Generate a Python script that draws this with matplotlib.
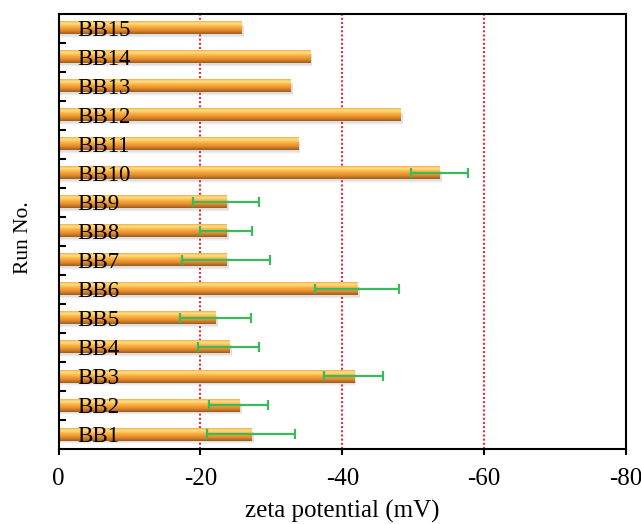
import numpy as np
import matplotlib
matplotlib.use("Agg")
import matplotlib.pyplot as plt
from matplotlib.colors import LinearSegmentedColormap

runs = ["BB1", "BB2", "BB3", "BB4", "BB5", "BB6", "BB7", "BB8",
        "BB9", "BB10", "BB11", "BB12", "BB13", "BB14", "BB15"]
zeta = [-27.2, -25.4, -41.6, -24.0, -22.1, -42.1, -23.6, -23.6,
        -23.6, -53.7, -33.7, -48.2, -32.6, -35.4, -25.7]
zeta_err = [6.2, 4.2, 4.2, 4.3, 5.0, 5.9, 6.2, 3.7,
            4.7, 4.0, 0, 0, 0, 0, 0]
x_ticks = [0, -20, -40, -60, -80]
ref_lines = [-20, -40, -60]

plt.rcParams['font.family'] = ['Liberation Serif', 'DejaVu Serif']

fig = plt.figure(figsize=(6.41, 5.24), dpi=100)
ax = fig.add_axes([0.0913, 0.1431, 0.8853, 0.8311])

# cylinder-like shading, top row of the array is the top of the bar
bar_cmap = LinearSegmentedColormap.from_list(
    "tube", ["#9a5a1c", "#c8782a", "#e8922e", "#f6a43a", "#fcc255",
             "#ffe08a", "#f2b048"])
grad = np.linspace(0, 1, 64).reshape(-1, 1)

y = np.arange(len(runs))
h = 0.42
for yi, v in zip(y, zeta):
    # soft shadow under each bar
    for k, a in enumerate([0.09, 0.07, 0.04]):
        ax.fill_between([0, v - 0.4], yi - h / 2 - 0.05 - 0.04 * k,
                        yi + h / 2 - 0.12, color="#606060", alpha=a,
                        lw=0, zorder=1)
    ax.imshow(grad, cmap=bar_cmap, aspect="auto", origin="lower",
              extent=[0, v, yi - h / 2, yi + h / 2], zorder=2,
              interpolation="bilinear")
    ax.text(-2.7, yi, runs[yi], fontsize=16.5, ha="left",
            va="center_baseline", zorder=5)

has_err = [i for i, e in enumerate(zeta_err) if e > 0]
ax.errorbar([zeta[i] for i in has_err], [y[i] for i in has_err],
            xerr=[zeta_err[i] for i in has_err], fmt="none",
            ecolor="#3cb95c", elinewidth=1.6, capsize=3.8, capthick=1.6,
            zorder=4)

for xv in ref_lines:
    ax.axvline(xv, color="#e8303a", ls=(0, (1, 1)), lw=1.5, zorder=0)

ax.set_xlim(0, -80)
ax.set_ylim(-0.5, len(runs) - 0.5)
ax.set_xticks(x_ticks)
ax.set_xticklabels([str(t) for t in x_ticks])
ax.set_yticks(np.arange(0.5, len(runs) - 1, 1.0))
ax.set_yticklabels([])
ax.tick_params(axis="y", direction="in", length=5, width=1.5)
ax.tick_params(axis="x", direction="out", length=4.5, width=1.5,
               labelsize=18, pad=9)
for s in ax.spines.values():
    s.set_linewidth(1.5)

ax.set_xlabel("zeta potential (mV)", fontsize=18, labelpad=7)
ax.set_ylabel("Run No.", fontsize=15.5)
ax.yaxis.set_label_coords(-0.045, 0.485)

fig.savefig("out.png", dpi=100)
